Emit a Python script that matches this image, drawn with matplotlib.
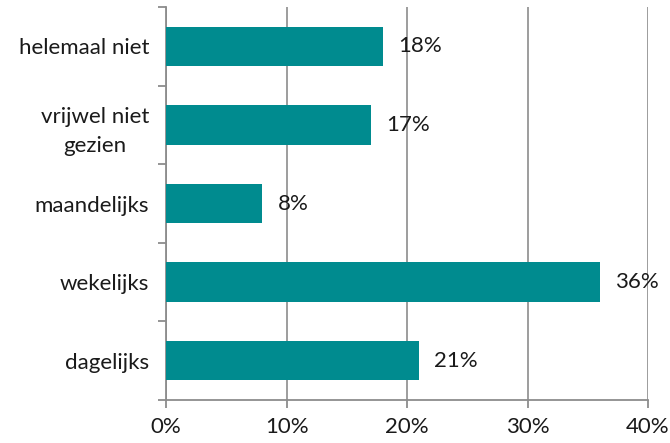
import matplotlib.pyplot as plt
from matplotlib.ticker import FuncFormatter

plt.rcParams['font.family'] = ['Lato', 'DejaVu Sans']

# data (bottom to top)
categories = ['dagelijks', 'wekelijks', 'maandelijks', 'vrijwel niet\ngezien', 'helemaal niet']
values = [21, 36, 8, 17, 18]

bar_color = '#008B8F'
grid_color = '#8C8C8C'
fs = 16

fig = plt.figure(figsize=(6.7, 4.43), dpi=100)
ax = fig.add_axes([0.2478, 0.097, 0.7194, 0.887])

ypos = list(range(len(categories)))
ax.barh(ypos, values, height=0.5, color=bar_color, zorder=3)

for y, v in zip(ypos, values):
    ax.text(v + 1.25, y, f'{v}%', va='center', ha='left', fontsize=fs, color='#1a1a1a', zorder=4)

ax.set_xlim(0, 40)
ax.set_ylim(-0.5, len(categories) - 0.5)
ax.set_xticks([0, 10, 20, 30, 40])
ax.xaxis.set_major_formatter(FuncFormatter(lambda x, p: f'{int(x)}%'))
ax.set_yticks(ypos)
ax.set_yticklabels(categories, multialignment='center', linespacing=1.55)
ax.set_yticks([i - 0.5 for i in range(len(categories) + 1)], minor=True)

ax.tick_params(axis='y', which='major', length=0, pad=12, labelsize=fs, labelcolor='#1a1a1a')
ax.tick_params(axis='y', which='minor', length=6, width=1.3, color=grid_color)
ax.tick_params(axis='x', length=6, width=1.3, color=grid_color, pad=6, labelsize=fs, labelcolor='#1a1a1a')

ax.grid(axis='x', color=grid_color, linewidth=1.2, zorder=0)
for s in ['top', 'right']:
    ax.spines[s].set_visible(False)
for s in ['left', 'bottom']:
    ax.spines[s].set_color(grid_color)
    ax.spines[s].set_linewidth(1.3)

fig.savefig('out.png', dpi=100)
